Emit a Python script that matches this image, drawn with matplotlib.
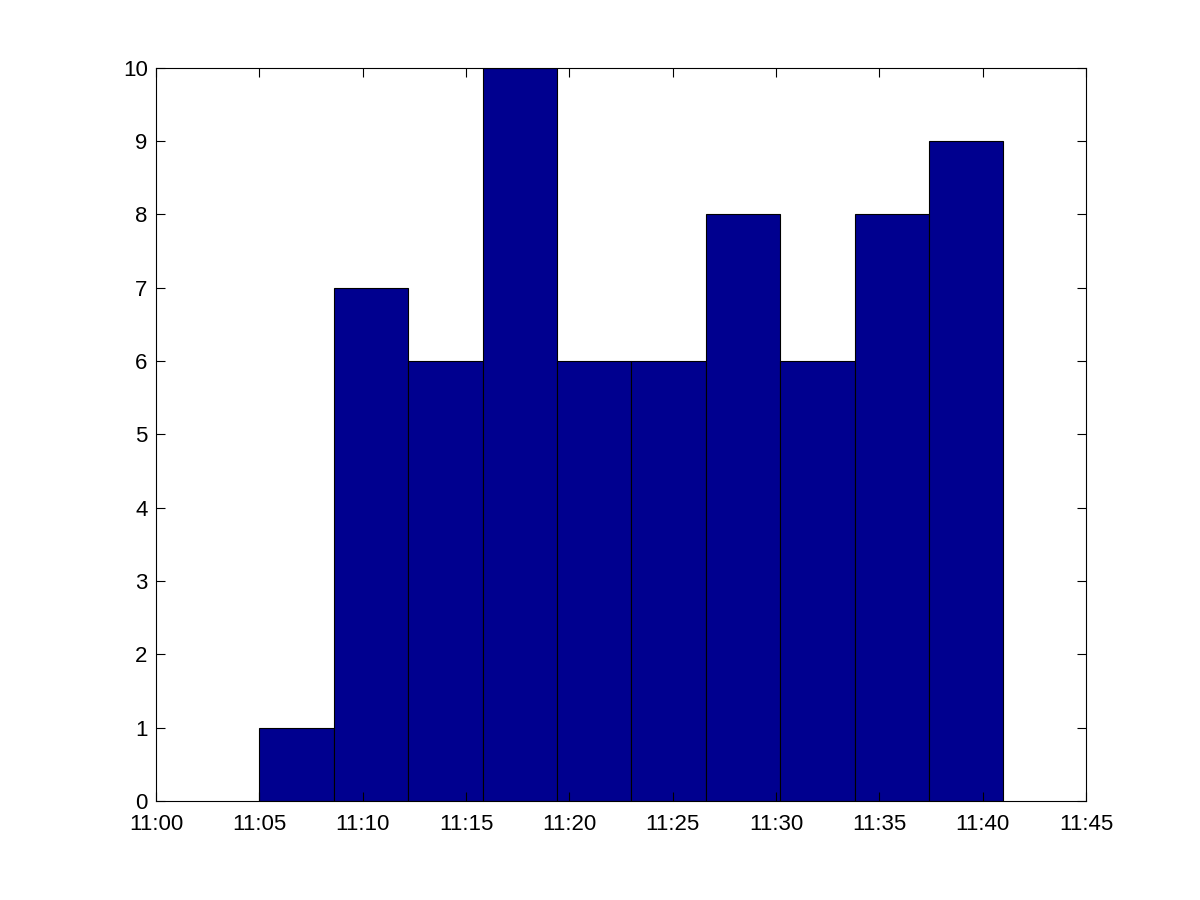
import numpy as np
import matplotlib
matplotlib.use("Agg")
import matplotlib.pyplot as plt

# histogram bins, minutes after 11:00
bin_edges = [5.0, 8.6, 12.2, 15.8, 19.4, 23.0, 26.6, 30.2, 33.8, 37.4, 41.0]
counts = [1, 7, 6, 10, 6, 6, 8, 6, 8, 9]

xticks = [0, 5, 10, 15, 20, 25, 30, 35, 40, 45]
xticklabels = ["11:00", "11:05", "11:10", "11:15", "11:20",
               "11:25", "11:30", "11:35", "11:40", "11:45"]

plt.rcParams['font.family'] = ['Liberation Sans', 'DejaVu Sans']

fig = plt.figure(figsize=(12, 9), dpi=100)
ax = fig.add_axes([0.13, 0.11, 0.775, 0.815])

edges = np.array(bin_edges)
ax.bar(edges[:-1], counts, width=np.diff(edges), align='edge',
       color='#00008f', edgecolor='black', linewidth=0.8)

ax.set_xlim(0, 45)
ax.set_ylim(0, 10)
ax.set_xticks(xticks)
ax.set_xticklabels(xticklabels)
ax.set_yticks(range(0, 11))
ax.tick_params(direction='in', length=6.5, width=0.8, top=True, right=True,
               labelsize=16)
ax.tick_params(axis='x', pad=9)
ax.tick_params(axis='y', pad=6)
for s in ax.spines.values():
    s.set_linewidth(0.8)

fig.savefig("out.png", dpi=100)
